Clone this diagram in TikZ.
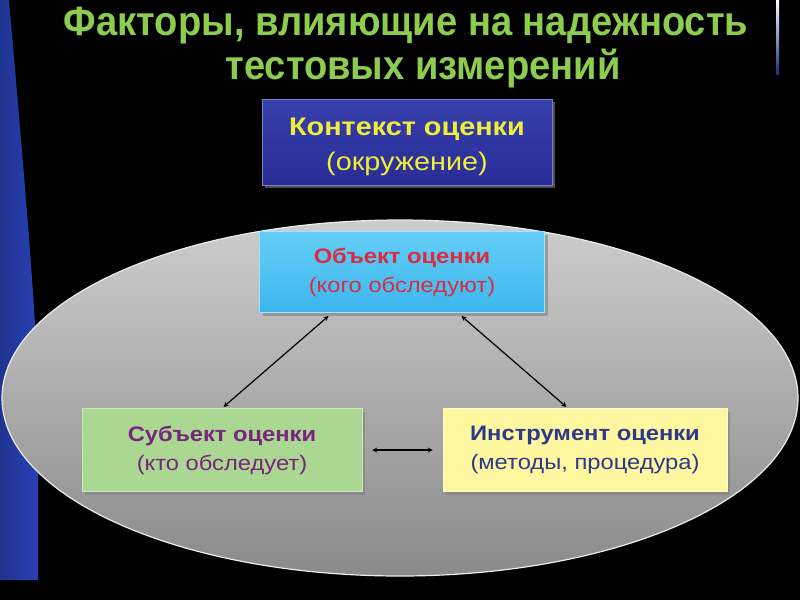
\documentclass[tikz,border=0pt]{standalone}
\usepackage{fontspec}
\setmainfont{Liberation Sans}
\newfontfamily\titlefont[FakeStretch=0.93]{Liberation Sans}
\newfontfamily\boxfont[FakeStretch=1.13]{Liberation Sans}
\usetikzlibrary{shadows,calc}
\definecolor{titlegreen}{RGB}{140,204,78}
\definecolor{ctxblue}{RGB}{40,44,150}
\definecolor{ctxblueT}{RGB}{56,64,172}
\definecolor{ctxyellow}{RGB}{240,236,60}
\definecolor{objblue}{RGB}{100,206,246}
\definecolor{objblueB}{RGB}{60,182,238}
\definecolor{objred}{RGB}{218,44,62}
\definecolor{subgreen}{RGB}{170,216,146}
\definecolor{subpurple}{RGB}{120,36,128}
\definecolor{insyellow}{RGB}{255,246,160}
\definecolor{insblue}{RGB}{44,58,140}
\definecolor{stripblue}{RGB}{40,64,180}
\definecolor{elltop}{RGB}{205,205,205}
\definecolor{ellbot}{RGB}{138,138,138}
\tikzset{
  box/.style={rectangle, minimum width=#1, minimum height=82pt, align=center,
    inner sep=0pt, line width=0.5pt,
    drop shadow={shadow xshift=3pt, shadow yshift=-3pt, opacity=0.6}},
  smalltext/.style={font=\boxfont\fontsize{21}{29}\selectfont},
  bigtext/.style={font=\boxfont\fontsize{25.5}{35}\selectfont},
  titletext/.style={font=\titlefont\bfseries\fontsize{41}{44}\selectfont, text=titlegreen, anchor=base},
  conn/.style={<->, >=stealth, line width=1.2pt, black},
}
\begin{document}
\begin{tikzpicture}[x=1pt,y=-1pt]
\fill[black] (0,0) rectangle (800,600);
\useasboundingbox (0,0) rectangle (800,600);
% left blue strip
\shade[left color=stripblue!80!black, right color=stripblue] (0,0) -- (9,0) .. controls (22,150) and (38,330) .. (38,400) -- (38,580) -- (0,580) -- cycle;
% right thin line
\shade[top color=white, bottom color=stripblue!70!black] (776,0) rectangle (779,74);
% title
\node[titletext] (title1) at (406,35) {Факторы, влияющие на надежность};
\node[titletext] (title2) at (423,79) {тестовых измерений};
% ellipse
\shade[top color=elltop, bottom color=ellbot, draw=white!85!gray, line width=1.2pt] (400,398) ellipse [x radius=398pt, y radius=178pt];
% boxes
\node[box=290pt, minimum height=86pt, top color=ctxblueT, bottom color=ctxblue, draw=ctxblue!60!white, bigtext, text=ctxyellow] (ctx) at (407,142) {%
  \rule{0pt}{28pt}\textbf{Контекст оценки}\\(окружение)};
\node[box=285pt, minimum height=81pt, top color=objblue, bottom color=objblueB, draw=objblue!60!white, smalltext, text=objred] (obj) at (402,272) {%
  \textbf{Объект оценки}\\(кого обследуют)};
\node[box=280pt, minimum height=83pt, fill=subgreen, draw=subgreen!60!white, smalltext, text=subpurple] (sub) at (222,450) {%
  \textbf{Субъект оценки}\\(кто обследует)};
\node[box=284pt, minimum height=83pt, fill=insyellow, draw=insyellow!60!white, smalltext, text=insblue] (ins) at (585,450) {%
  \textbf{Инструмент оценки}\\(методы, процедура)};
% connectors
\coordinate (objA) at ($(obj.south west)!0.256!(obj.south east)$);
\coordinate (objB) at ($(obj.south west)!0.695!(obj.south east)$);
\coordinate (insA) at ($(ins.north west)!0.44!(ins.north east)$);
\draw[conn, shorten <=5pt, shorten >=2pt] (objA) -- (sub.north);
\draw[conn, shorten <=5pt, shorten >=2pt] (objB) -- (insA);
\draw[conn, shorten <=10pt, shorten >=10pt] (sub.east) -- (ins.west);
\end{tikzpicture}
\end{document}
